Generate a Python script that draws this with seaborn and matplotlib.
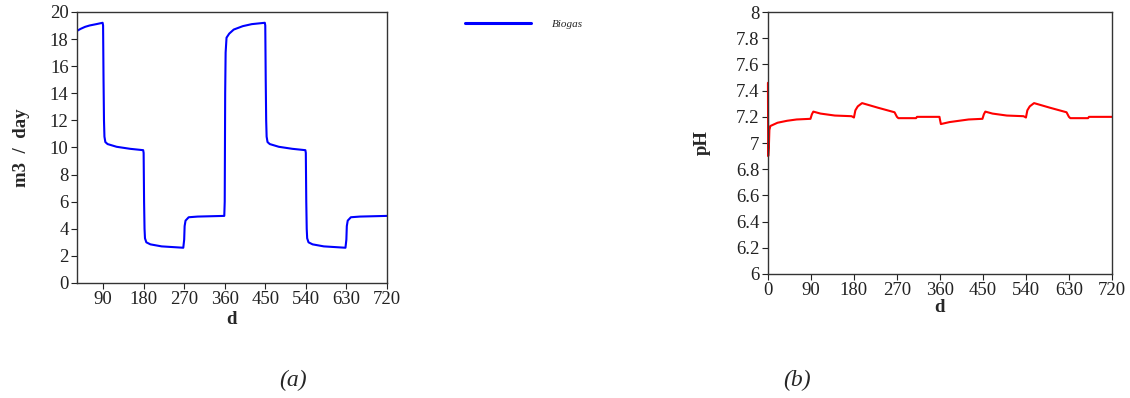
import numpy as np
import pandas as pd
import seaborn as sns
import matplotlib
matplotlib.use("Agg")
import matplotlib.pyplot as plt

# ---- data ----
biogas_day = [32, 40, 50, 60, 75, 89, 90, 91, 92, 93, 95, 100, 120, 150, 179,
              180, 181, 182, 183, 186, 195, 220, 268, 270, 271, 273, 280, 300, 359,
              360, 361, 362, 364, 370, 380, 400, 420, 449,
              450, 451, 452, 453, 455, 460, 480, 510, 539,
              540, 541, 542, 543, 546, 555, 580, 628, 630, 631, 633, 640, 660, 720]
biogas_val = [18.6, 18.75, 18.9, 19.0, 19.1, 19.2, 19.0, 15.0, 12.0, 10.8, 10.4, 10.25, 10.05, 9.9, 9.8,
              9.6, 6.0, 4.0, 3.3, 3.0, 2.85, 2.7, 2.6, 3.2, 4.2, 4.6, 4.85, 4.9, 4.95,
              6.0, 14.0, 17.0, 18.1, 18.4, 18.7, 18.95, 19.1, 19.2,
              19.0, 15.0, 12.0, 10.8, 10.4, 10.25, 10.05, 9.9, 9.8,
              9.6, 6.0, 4.0, 3.3, 3.0, 2.85, 2.7, 2.6, 3.2, 4.2, 4.6, 4.85, 4.9, 4.95]

ph_day = [0, 0.5, 2, 3, 5, 20, 40, 60, 89, 92, 95, 110, 140, 175, 180,
          183, 188, 197, 230, 265, 270, 273, 310, 312, 359, 360, 362, 380, 400, 420, 449,
          452, 455, 470, 500, 535, 540, 543, 548, 557, 590, 625, 630, 633, 670, 672, 720]
ph_val = [7.46, 6.90, 6.98, 7.10, 7.13, 7.155, 7.17, 7.18, 7.185, 7.22, 7.24, 7.225, 7.21, 7.205, 7.195,
          7.25, 7.28, 7.305, 7.27, 7.235, 7.20, 7.19, 7.19, 7.20, 7.20, 7.18, 7.145, 7.16, 7.17, 7.18, 7.185,
          7.22, 7.24, 7.225, 7.21, 7.205, 7.195, 7.25, 7.28, 7.305, 7.27, 7.235, 7.20, 7.19, 7.19, 7.20, 7.20]

biogas_xticks = [90, 180, 270, 360, 450, 540, 630, 720]
biogas_yticks = [0, 2, 4, 6, 8, 10, 12, 14, 16, 18, 20]
ph_xticks = [0, 90, 180, 270, 360, 450, 540, 630, 720]
ph_yticks = [6, 6.2, 6.4, 6.6, 6.8, 7, 7.2, 7.4, 7.6, 7.8, 8]
ph_yticklabels = ["6", "6.2", "6.4", "6.6", "6.8", "7", "7.2", "7.4", "7.6", "7.8", "8"]

sns.set_style("white")
plt.rcParams['font.family'] = ['Liberation Serif', 'DejaVu Serif']

fig = plt.figure(figsize=(11.3, 3.98), dpi=100)
ax1 = fig.add_axes([0.0681, 0.289, 0.2743, 0.681])
ax2 = fig.add_axes([0.6796, 0.3116, 0.3044, 0.658])

df1 = pd.DataFrame({"d": biogas_day, "Biogas": biogas_val})
df2 = pd.DataFrame({"d": ph_day, "pH": ph_val})

sns.lineplot(data=df1, x="d", y="Biogas", ax=ax1, color="#0000ff", linewidth=1.5,
             label="Biogas", estimator=None, sort=False)
sns.lineplot(data=df2, x="d", y="pH", ax=ax2, color="#ff0000", linewidth=1.5,
             estimator=None, sort=False, legend=False)
for ln in ax2.get_lines():
    ln.set_clip_on(False)

ax1.set_xlim(32, 720)
ax1.set_ylim(0, 20)
ax1.set_xticks(biogas_xticks)
ax1.set_yticks(biogas_yticks)
ax2.set_xlim(0, 720)
ax2.set_ylim(6, 8)
ax2.set_xticks(ph_xticks)
ax2.set_yticks(ph_yticks)
ax2.set_yticklabels(ph_yticklabels)

for ax in (ax1, ax2):
    for s in ax.spines.values():
        s.set_color("#333333")
        s.set_linewidth(1.0)
    ax.tick_params(axis="both", which="both", direction="out", length=4, width=0.8,
                   labelsize=13.5, colors="#222222", pad=2, left=True, bottom=True)

ax1.set_xlabel("d", fontsize=13.5, fontweight="bold", labelpad=2)
ax1.set_ylabel("m3  /  day", fontsize=13.5, fontweight="bold", labelpad=14)
ax2.set_xlabel("d", fontsize=13.5, fontweight="bold", labelpad=0)
ax2.set_ylabel("pH", fontsize=13.5, fontweight="bold", labelpad=18)

leg = ax1.legend(loc="upper left", bbox_to_anchor=(0.403, 0.978), bbox_transform=fig.transFigure,
                 frameon=False, handlelength=5.9, handletextpad=1.9, prop={"size": 8, "style": "italic"})
for line in leg.get_lines():
    line.set_linewidth(2.2)

fig.text(0.259, 0.045, "(a)", fontsize=17, style="italic", ha="center", va="center")
fig.text(0.705, 0.045, "(b)", fontsize=17, style="italic", ha="center", va="center")

fig.savefig("out.png", dpi=100)
